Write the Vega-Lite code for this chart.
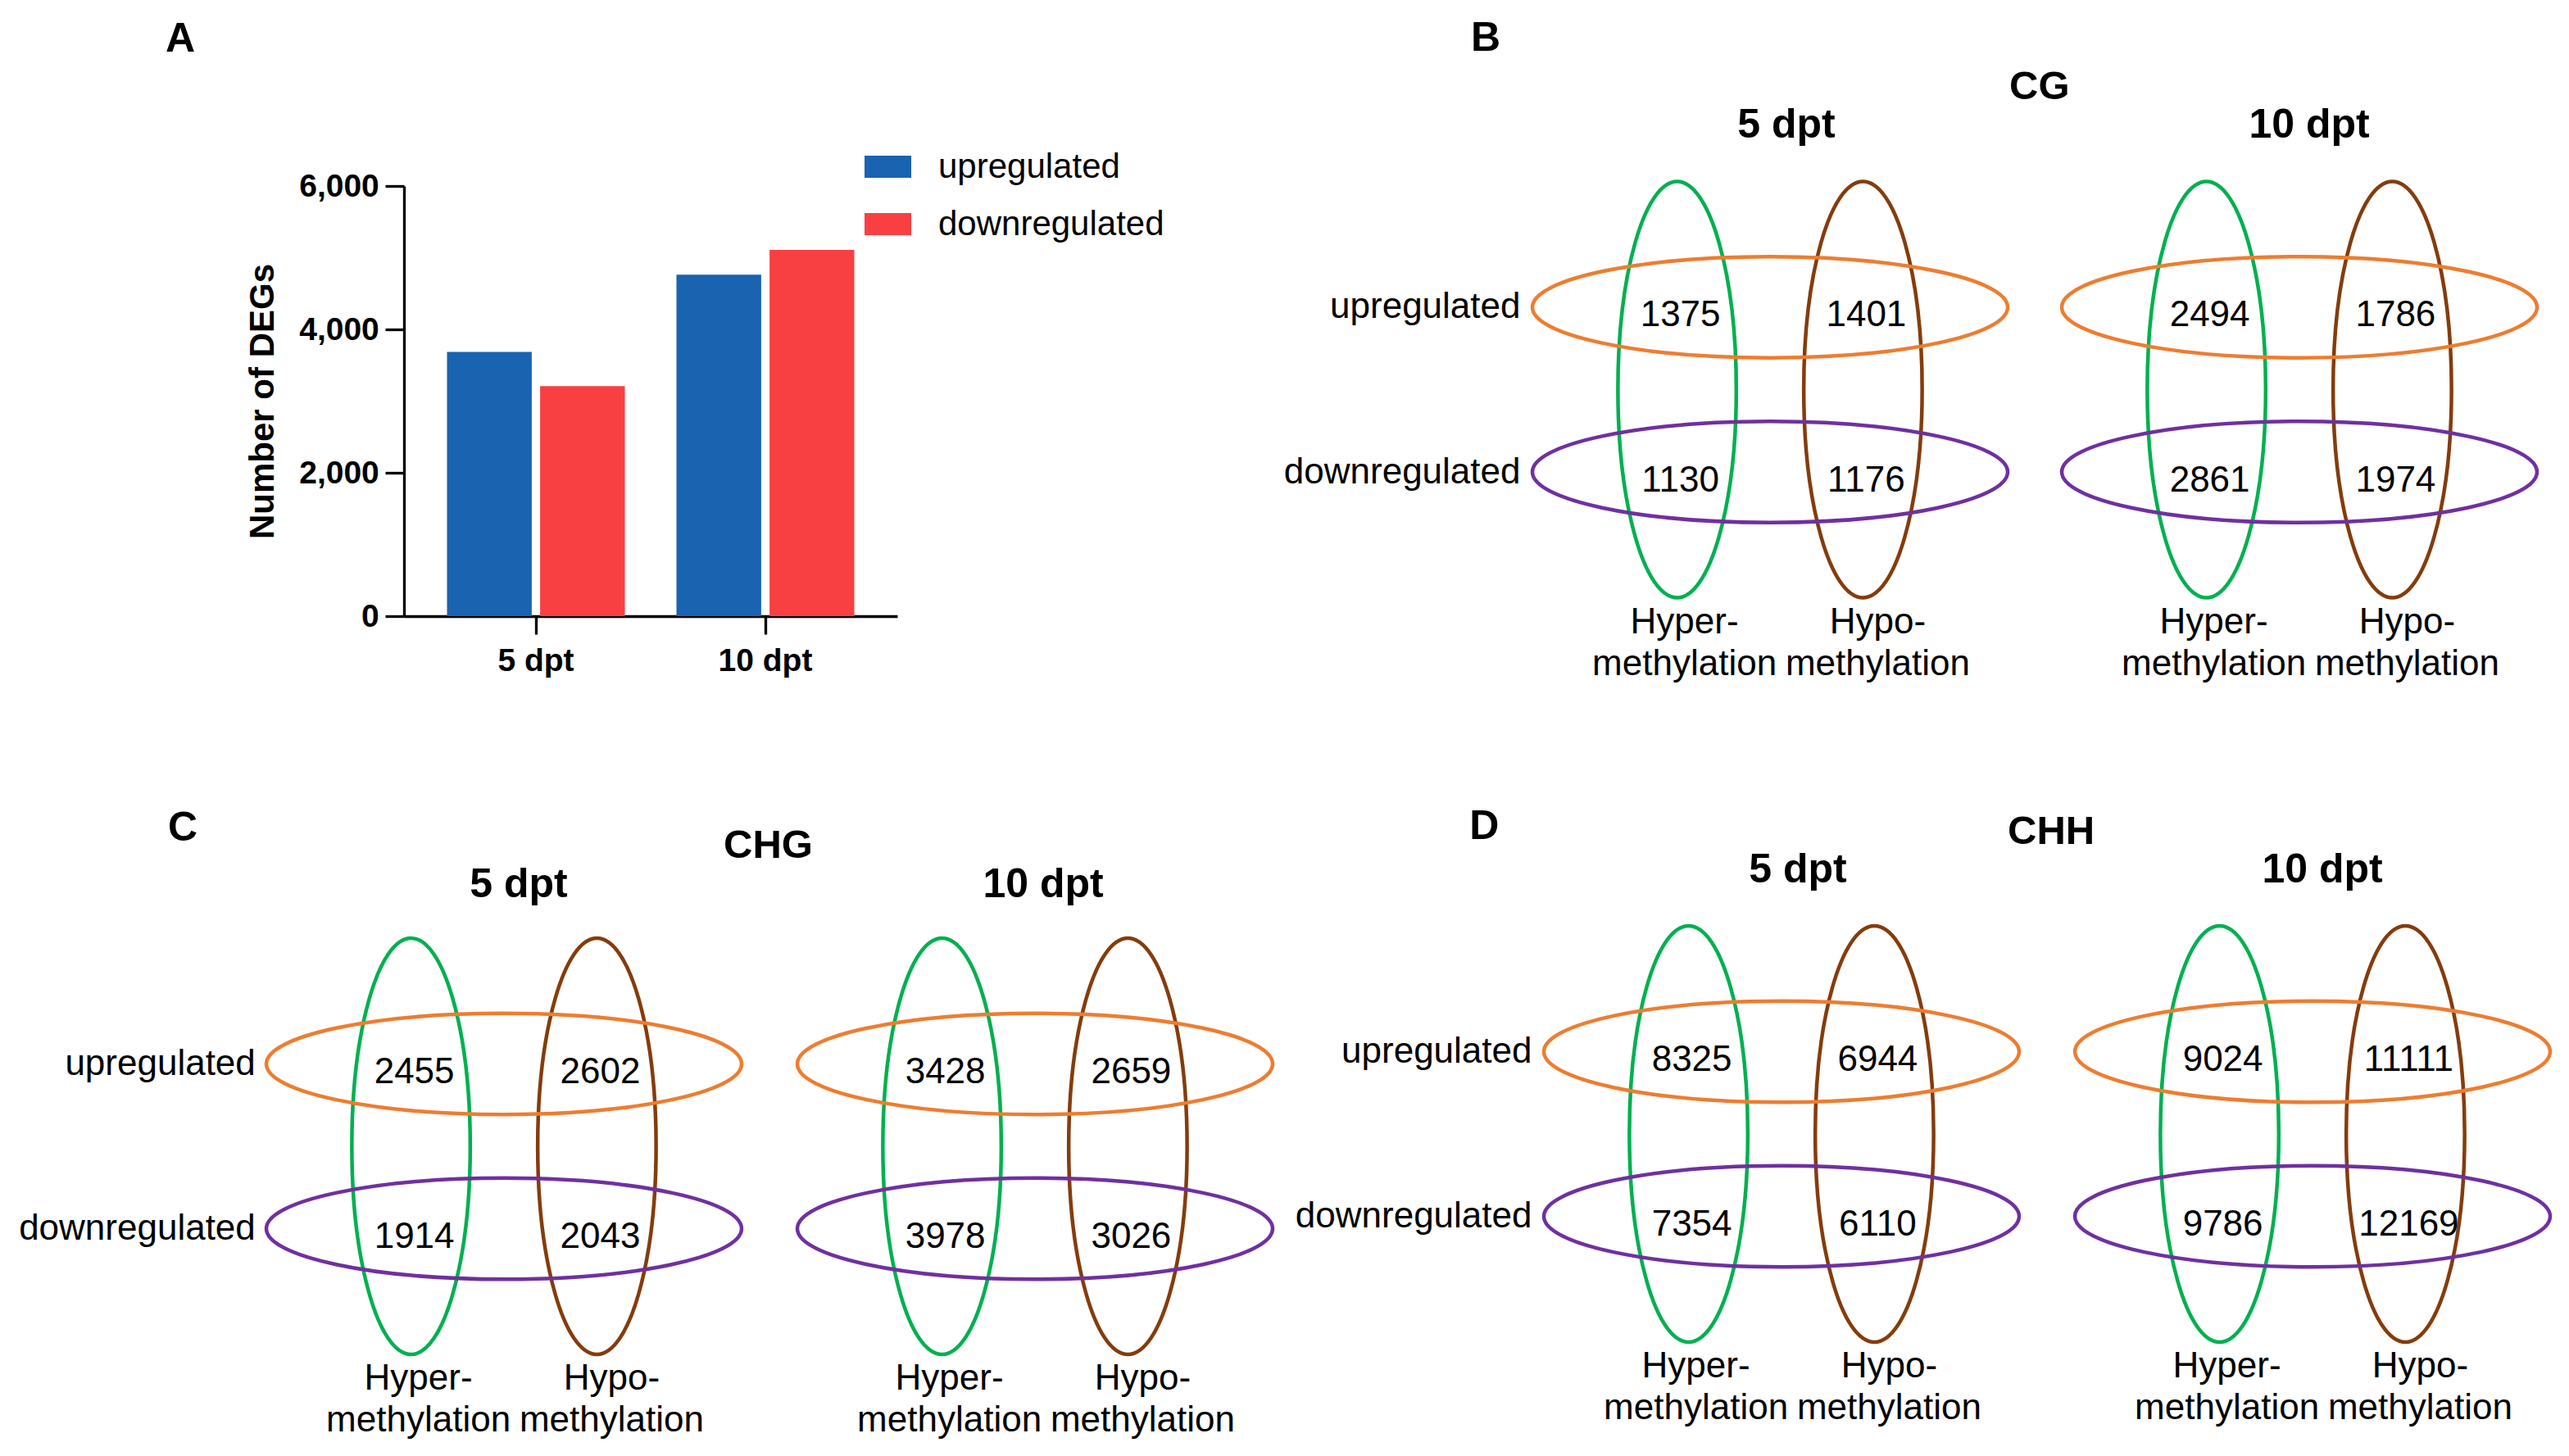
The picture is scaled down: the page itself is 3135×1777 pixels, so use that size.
{
  "$schema": "https://vega.github.io/schema/vega-lite/v6.json",
  "background": "white",
  "padding": {"left": 22, "top": 22, "right": 0, "bottom": 0},
  "config": {
    "font": "Liberation Sans",
    "view": {"stroke": null},
    "axis": {"grid": false, "labelColor": "black", "titleColor": "black", "domainColor": "black", "tickColor": "black"},
    "legend": {"labelLimit": 0},
    "title": {"color": "black"}
  },
  "datasets": {
    "degs": [
      {"stage": "5 dpt", "regulation": "upregulated", "count": 3685},
      {"stage": "5 dpt", "regulation": "downregulated", "count": 3208},
      {"stage": "10 dpt", "regulation": "upregulated", "count": 4762},
      {"stage": "10 dpt", "regulation": "downregulated", "count": 5110}
    ],
    "sets": [
      {"set": "Hyper-methylation", "kind": "methylation"},
      {"set": "Hypo-methylation", "kind": "methylation"},
      {"set": "upregulated", "kind": "regulation"},
      {"set": "downregulated", "kind": "regulation"}
    ],
    "cells": [
      {"context": "CG", "stage": "5 dpt", "methylation": "Hyper-methylation", "regulation": "upregulated", "count": 1375},
      {"context": "CG", "stage": "5 dpt", "methylation": "Hypo-methylation", "regulation": "upregulated", "count": 1401},
      {"context": "CG", "stage": "5 dpt", "methylation": "Hyper-methylation", "regulation": "downregulated", "count": 1130},
      {"context": "CG", "stage": "5 dpt", "methylation": "Hypo-methylation", "regulation": "downregulated", "count": 1176},
      {"context": "CG", "stage": "10 dpt", "methylation": "Hyper-methylation", "regulation": "upregulated", "count": 2494},
      {"context": "CG", "stage": "10 dpt", "methylation": "Hypo-methylation", "regulation": "upregulated", "count": 1786},
      {"context": "CG", "stage": "10 dpt", "methylation": "Hyper-methylation", "regulation": "downregulated", "count": 2861},
      {"context": "CG", "stage": "10 dpt", "methylation": "Hypo-methylation", "regulation": "downregulated", "count": 1974},
      {"context": "CHG", "stage": "5 dpt", "methylation": "Hyper-methylation", "regulation": "upregulated", "count": 2455},
      {"context": "CHG", "stage": "5 dpt", "methylation": "Hypo-methylation", "regulation": "upregulated", "count": 2602},
      {"context": "CHG", "stage": "5 dpt", "methylation": "Hyper-methylation", "regulation": "downregulated", "count": 1914},
      {"context": "CHG", "stage": "5 dpt", "methylation": "Hypo-methylation", "regulation": "downregulated", "count": 2043},
      {"context": "CHG", "stage": "10 dpt", "methylation": "Hyper-methylation", "regulation": "upregulated", "count": 3428},
      {"context": "CHG", "stage": "10 dpt", "methylation": "Hypo-methylation", "regulation": "upregulated", "count": 2659},
      {"context": "CHG", "stage": "10 dpt", "methylation": "Hyper-methylation", "regulation": "downregulated", "count": 3978},
      {"context": "CHG", "stage": "10 dpt", "methylation": "Hypo-methylation", "regulation": "downregulated", "count": 3026},
      {"context": "CHH", "stage": "5 dpt", "methylation": "Hyper-methylation", "regulation": "upregulated", "count": 8325},
      {"context": "CHH", "stage": "5 dpt", "methylation": "Hypo-methylation", "regulation": "upregulated", "count": 6944},
      {"context": "CHH", "stage": "5 dpt", "methylation": "Hyper-methylation", "regulation": "downregulated", "count": 7354},
      {"context": "CHH", "stage": "5 dpt", "methylation": "Hypo-methylation", "regulation": "downregulated", "count": 6110},
      {"context": "CHH", "stage": "10 dpt", "methylation": "Hyper-methylation", "regulation": "upregulated", "count": 9024},
      {"context": "CHH", "stage": "10 dpt", "methylation": "Hypo-methylation", "regulation": "upregulated", "count": 11111},
      {"context": "CHH", "stage": "10 dpt", "methylation": "Hyper-methylation", "regulation": "downregulated", "count": 9786},
      {"context": "CHH", "stage": "10 dpt", "methylation": "Hypo-methylation", "regulation": "downregulated", "count": 12169}
    ]
  },
  "spacing": 151,
  "vconcat": [
    {
      "spacing": 471,
      "hconcat": [
        {
          "title": {"text": "A", "anchor": "start", "frame": "group", "dx": -291, "offset": 135, "fontSize": 50, "fontWeight": "bold"},
          "width": 602,
          "height": 525,
          "data": {"name": "degs"},
          "mark": {"type": "bar"},
          "encoding": {
            "x": {"field": "stage", "type": "nominal", "sort": ["5 dpt", "10 dpt"],
              "scale": {"paddingInner": 0.225, "paddingOuter": 0.1875},
              "axis": {"title": null, "labelAngle": 0, "labelFontSize": 39, "labelFontWeight": "bold", "labelPadding": 13, "tickSize": 22, "tickWidth": 3.3, "domainWidth": 3.3}},
            "xOffset": {"field": "regulation", "type": "nominal", "sort": ["upregulated", "downregulated"], "scale": {"paddingInner": 0.09, "paddingOuter": 0}},
            "y": {"field": "count", "type": "quantitative", "scale": {"domain": [0, 6000], "nice": false},
              "axis": {"title": "Number of DEGs", "values": [0, 2000, 4000, 6000], "format": ",.0f", "labelFontSize": 39, "labelFontWeight": "bold", "labelPadding": 7.7, "tickSize": 23, "tickWidth": 3.3, "domainWidth": 3.3, "titleFontSize": 42, "titleFontWeight": "bold", "titlePadding": 22}},
            "color": {"field": "regulation", "type": "nominal",
              "scale": {"domain": ["upregulated", "downregulated"], "range": ["#1963B0", "#F84042"]},
              "legend": {"title": null, "orient": "none", "legendX": 562, "legendY": -52, "padding": 0, "symbolType": "M-1,-0.4737L1,-0.4737L1,0.4737L-1,0.4737Z", "symbolSize": 3249, "symbolStrokeWidth": 0, "symbolOpacity": 1, "labelFontSize": 42, "labelOffset": 33, "rowPadding": 20, "labelColor": "black"}}
          }
        },
        {
          "title": {"text": "B", "anchor": "start", "frame": "group", "dx": -75, "offset": 10.3, "fontSize": 50, "fontWeight": "bold"},
          "vconcat": [
            {
              "title": {"text": "CG", "anchor": "start", "frame": "group", "dx": 582, "offset": -3.3, "fontSize": 49, "fontWeight": "bold"},
              "spacing": 48,
              "hconcat": [
                {
                  "title": {"text": "5 dpt", "fontSize": 50, "fontWeight": "bold", "dx": 20, "offset": 34.5},
                  "width": 580, "height": 497,
                  "layer": [
                    {"data": {"name": "sets"}, "transform": [{"filter": "datum.kind == 'methylation'"}],
                      "mark": {"type": "point", "shape": "M0,-1C0.1571,-1 0.2844,-0.5523 0.2844,0C0.2844,0.5523 0.1571,1 0,1C-0.1571,1 -0.2844,0.5523 -0.2844,0C-0.2844,-0.5523 -0.1571,-1 0,-1Z", "size": 258064, "filled": false, "strokeWidth": 4.5, "opacity": 1},
                      "encoding": {
                        "x": {"field": "set", "type": "nominal", "scale": {"type": "point", "domain": ["Hyper-methylation", "Hypo-methylation"], "padding": 0.7787},
                          "axis": {"title": null, "orient": "bottom", "domain": false, "ticks": false, "tickSize": 0, "labelFontSize": 44, "labelLineHeight": 51, "labelPadding": 13.2, "labelOffset": {"condition": {"test": "datum.value == 'Hyper-methylation'", "value": 8.5}, "value": 17.5}, "labelAngle": 0, "labelLimit": 0, "labelExpr": "[split(datum.label, '-')[0] + '-', split(datum.label, '-')[1]]"}},
                        "stroke": {"field": "set", "type": "nominal", "scale": {"domain": ["Hyper-methylation", "Hypo-methylation", "upregulated", "downregulated"], "range": ["#00B050", "#843C0C", "#ED7D31", "#7030A0"]}, "legend": null}
                      }},
                    {"data": {"name": "sets"}, "transform": [{"filter": "datum.kind == 'regulation'"}],
                      "mark": {"type": "point", "shape": "M-1,0C-1,-0.1176 -0.5523,-0.2129 0,-0.2129C0.5523,-0.2129 1,-0.1176 1,0C1,0.1176 0.5523,0.2129 0,0.2129C-0.5523,0.2129 -1,0.1176 -1,0Z", "size": 336400, "filled": false, "strokeWidth": 4.5, "opacity": 1},
                      "encoding": {
                        "y": {"field": "set", "type": "nominal", "scale": {"type": "point", "domain": ["upregulated", "downregulated"], "padding": 0.736},
                          "axis": {"title": null, "domain": false, "ticks": false, "tickSize": 0, "labelFontSize": 44, "labelPadding": 15, "labelLimit": 0}},
                        "stroke": {"field": "set", "type": "nominal", "scale": {"domain": ["Hyper-methylation", "Hypo-methylation", "upregulated", "downregulated"], "range": ["#00B050", "#843C0C", "#ED7D31", "#7030A0"]}, "legend": null}
                      }},
                    {"data": {"name": "cells"}, "transform": [{"filter": "datum.context == 'CG' && datum.stage == '5 dpt'"}],
                      "mark": {"type": "text", "fontSize": 44, "dx": 4, "dy": 10.5, "color": "black"},
                      "encoding": {
                        "x": {"field": "methylation", "type": "nominal", "scale": {"type": "point", "domain": ["Hyper-methylation", "Hypo-methylation"], "padding": 0.7787},
                          "axis": {"title": null, "orient": "bottom", "domain": false, "ticks": false, "tickSize": 0, "labelFontSize": 44, "labelLineHeight": 51, "labelPadding": 13.2, "labelOffset": {"condition": {"test": "datum.value == 'Hyper-methylation'", "value": 8.5}, "value": 17.5}, "labelAngle": 0, "labelLimit": 0, "labelExpr": "[split(datum.label, '-')[0] + '-', split(datum.label, '-')[1]]"}},
                        "y": {"field": "regulation", "type": "nominal", "scale": {"type": "point", "domain": ["upregulated", "downregulated"], "padding": 0.736},
                          "axis": {"title": null, "domain": false, "ticks": false, "tickSize": 0, "labelFontSize": 44, "labelPadding": 15, "labelLimit": 0}},
                        "text": {"field": "count", "type": "nominal"}
                      }}
                  ]
                },
                {
                  "title": {"text": "10 dpt", "fontSize": 50, "fontWeight": "bold", "dx": 12, "offset": 34.5},
                  "width": 580, "height": 497,
                  "layer": [
                    {"data": {"name": "sets"}, "transform": [{"filter": "datum.kind == 'methylation'"}],
                      "mark": {"type": "point", "shape": "M0,-1C0.1571,-1 0.2844,-0.5523 0.2844,0C0.2844,0.5523 0.1571,1 0,1C-0.1571,1 -0.2844,0.5523 -0.2844,0C-0.2844,-0.5523 -0.1571,-1 0,-1Z", "size": 258064, "filled": false, "strokeWidth": 4.5, "opacity": 1},
                      "encoding": {
                        "x": {"field": "set", "type": "nominal", "scale": {"type": "point", "domain": ["Hyper-methylation", "Hypo-methylation"], "padding": 0.7787},
                          "axis": {"title": null, "orient": "bottom", "domain": false, "ticks": false, "tickSize": 0, "labelFontSize": 44, "labelLineHeight": 51, "labelPadding": 13.2, "labelOffset": {"condition": {"test": "datum.value == 'Hyper-methylation'", "value": 8.5}, "value": 17.5}, "labelAngle": 0, "labelLimit": 0, "labelExpr": "[split(datum.label, '-')[0] + '-', split(datum.label, '-')[1]]"}},
                        "stroke": {"field": "set", "type": "nominal", "scale": {"domain": ["Hyper-methylation", "Hypo-methylation", "upregulated", "downregulated"], "range": ["#00B050", "#843C0C", "#ED7D31", "#7030A0"]}, "legend": null}
                      }},
                    {"data": {"name": "sets"}, "transform": [{"filter": "datum.kind == 'regulation'"}],
                      "mark": {"type": "point", "shape": "M-1,0C-1,-0.1176 -0.5523,-0.2129 0,-0.2129C0.5523,-0.2129 1,-0.1176 1,0C1,0.1176 0.5523,0.2129 0,0.2129C-0.5523,0.2129 -1,0.1176 -1,0Z", "size": 336400, "filled": false, "strokeWidth": 4.5, "opacity": 1},
                      "encoding": {
                        "y": {"field": "set", "type": "nominal", "scale": {"type": "point", "domain": ["upregulated", "downregulated"], "padding": 0.736}, "axis": null},
                        "stroke": {"field": "set", "type": "nominal", "scale": {"domain": ["Hyper-methylation", "Hypo-methylation", "upregulated", "downregulated"], "range": ["#00B050", "#843C0C", "#ED7D31", "#7030A0"]}, "legend": null}
                      }},
                    {"data": {"name": "cells"}, "transform": [{"filter": "datum.context == 'CG' && datum.stage == '10 dpt'"}],
                      "mark": {"type": "text", "fontSize": 44, "dx": 4, "dy": 10.5, "color": "black"},
                      "encoding": {
                        "x": {"field": "methylation", "type": "nominal", "scale": {"type": "point", "domain": ["Hyper-methylation", "Hypo-methylation"], "padding": 0.7787},
                          "axis": {"title": null, "orient": "bottom", "domain": false, "ticks": false, "tickSize": 0, "labelFontSize": 44, "labelLineHeight": 51, "labelPadding": 13.2, "labelOffset": {"condition": {"test": "datum.value == 'Hyper-methylation'", "value": 8.5}, "value": 17.5}, "labelAngle": 0, "labelLimit": 0, "labelExpr": "[split(datum.label, '-')[0] + '-', split(datum.label, '-')[1]]"}},
                        "y": {"field": "regulation", "type": "nominal", "scale": {"type": "point", "domain": ["upregulated", "downregulated"], "padding": 0.736}, "axis": null},
                        "text": {"field": "count", "type": "nominal"}
                      }}
                  ]
                }
              ]
            }
          ]
        }
      ]
    },
    {
      "spacing": 18,
      "hconcat": [
        {
          "title": {"text": "C", "anchor": "start", "frame": "group", "dx": -288, "offset": -28.5, "fontSize": 50, "fontWeight": "bold"},
          "vconcat": [
            {
              "title": {"text": "CHG", "anchor": "start", "frame": "group", "dx": 390, "offset": -2.3, "fontSize": 49, "fontWeight": "bold"},
              "spacing": 50,
              "hconcat": [
                {
                  "title": {"text": "5 dpt", "fontSize": 50, "fontWeight": "bold", "dx": 18, "offset": 29.5},
                  "width": 244, "height": 530,
                  "layer": [
                    {"data": {"name": "sets"}, "transform": [{"filter": "datum.kind == 'methylation'"}],
                      "mark": {"type": "point", "shape": "M0,-1C0.1571,-1 0.2844,-0.5523 0.2844,0C0.2844,0.5523 0.1571,1 0,1C-0.1571,1 -0.2844,0.5523 -0.2844,0C-0.2844,-0.5523 -0.1571,-1 0,-1Z", "size": 258064, "filled": false, "strokeWidth": 4.5, "opacity": 1},
                      "encoding": {
                        "x": {"field": "set", "type": "nominal", "scale": {"type": "point", "domain": ["Hyper-methylation", "Hypo-methylation"], "padding": 0.0379},
                          "axis": {"title": null, "orient": "bottom", "domain": false, "ticks": false, "tickSize": 0, "labelFontSize": 44, "labelLineHeight": 51, "labelPadding": -3.6, "labelOffset": {"condition": {"test": "datum.value == 'Hyper-methylation'", "value": 8.5}, "value": 17.5}, "labelAngle": 0, "labelLimit": 0, "labelExpr": "[split(datum.label, '-')[0] + '-', split(datum.label, '-')[1]]"}},
                        "stroke": {"field": "set", "type": "nominal", "scale": {"domain": ["Hyper-methylation", "Hypo-methylation", "upregulated", "downregulated"], "range": ["#00B050", "#843C0C", "#ED7D31", "#7030A0"]}, "legend": null}
                      }},
                    {"data": {"name": "sets"}, "transform": [{"filter": "datum.kind == 'regulation'"}],
                      "mark": {"type": "point", "shape": "M-1,0C-1,-0.1176 -0.5523,-0.2129 0,-0.2129C0.5523,-0.2129 1,-0.1176 1,0C1,0.1176 0.5523,0.2129 0,0.2129C-0.5523,0.2129 -1,0.1176 -1,0Z", "size": 336400, "filled": false, "strokeWidth": 4.5, "opacity": 1},
                      "encoding": {
                        "y": {"field": "set", "type": "nominal", "scale": {"type": "point", "domain": ["upregulated", "downregulated"], "padding": 0.818},
                          "axis": {"title": null, "domain": false, "ticks": false, "tickSize": 0, "labelFontSize": 44, "labelPadding": 181.7, "labelLimit": 0}},
                        "stroke": {"field": "set", "type": "nominal", "scale": {"domain": ["Hyper-methylation", "Hypo-methylation", "upregulated", "downregulated"], "range": ["#00B050", "#843C0C", "#ED7D31", "#7030A0"]}, "legend": null}
                      }},
                    {"data": {"name": "cells"}, "transform": [{"filter": "datum.context == 'CHG' && datum.stage == '5 dpt'"}],
                      "mark": {"type": "text", "fontSize": 44, "dx": 4, "dy": 10.5, "color": "black"},
                      "encoding": {
                        "x": {"field": "methylation", "type": "nominal", "scale": {"type": "point", "domain": ["Hyper-methylation", "Hypo-methylation"], "padding": 0.0379},
                          "axis": {"title": null, "orient": "bottom", "domain": false, "ticks": false, "tickSize": 0, "labelFontSize": 44, "labelLineHeight": 51, "labelPadding": -3.6, "labelOffset": {"condition": {"test": "datum.value == 'Hyper-methylation'", "value": 8.5}, "value": 17.5}, "labelAngle": 0, "labelLimit": 0, "labelExpr": "[split(datum.label, '-')[0] + '-', split(datum.label, '-')[1]]"}},
                        "y": {"field": "regulation", "type": "nominal", "scale": {"type": "point", "domain": ["upregulated", "downregulated"], "padding": 0.818},
                          "axis": {"title": null, "domain": false, "ticks": false, "tickSize": 0, "labelFontSize": 44, "labelPadding": 181.7, "labelLimit": 0}},
                        "text": {"field": "count", "type": "nominal"}
                      }}
                  ]
                },
                {
                  "title": {"text": "10 dpt", "fontSize": 50, "fontWeight": "bold", "dx": 10, "offset": 29.5},
                  "width": 580, "height": 530,
                  "layer": [
                    {"data": {"name": "sets"}, "transform": [{"filter": "datum.kind == 'methylation'"}],
                      "mark": {"type": "point", "shape": "M0,-1C0.1571,-1 0.2844,-0.5523 0.2844,0C0.2844,0.5523 0.1571,1 0,1C-0.1571,1 -0.2844,0.5523 -0.2844,0C-0.2844,-0.5523 -0.1571,-1 0,-1Z", "size": 258064, "filled": false, "strokeWidth": 4.5, "opacity": 1},
                      "encoding": {
                        "x": {"field": "set", "type": "nominal", "scale": {"type": "point", "domain": ["Hyper-methylation", "Hypo-methylation"], "padding": 0.7787},
                          "axis": {"title": null, "orient": "bottom", "domain": false, "ticks": false, "tickSize": 0, "labelFontSize": 44, "labelLineHeight": 51, "labelPadding": -3.6, "labelOffset": {"condition": {"test": "datum.value == 'Hyper-methylation'", "value": 8.5}, "value": 17.5}, "labelAngle": 0, "labelLimit": 0, "labelExpr": "[split(datum.label, '-')[0] + '-', split(datum.label, '-')[1]]"}},
                        "stroke": {"field": "set", "type": "nominal", "scale": {"domain": ["Hyper-methylation", "Hypo-methylation", "upregulated", "downregulated"], "range": ["#00B050", "#843C0C", "#ED7D31", "#7030A0"]}, "legend": null}
                      }},
                    {"data": {"name": "sets"}, "transform": [{"filter": "datum.kind == 'regulation'"}],
                      "mark": {"type": "point", "shape": "M-1,0C-1,-0.1176 -0.5523,-0.2129 0,-0.2129C0.5523,-0.2129 1,-0.1176 1,0C1,0.1176 0.5523,0.2129 0,0.2129C-0.5523,0.2129 -1,0.1176 -1,0Z", "size": 336400, "filled": false, "strokeWidth": 4.5, "opacity": 1},
                      "encoding": {
                        "y": {"field": "set", "type": "nominal", "scale": {"type": "point", "domain": ["upregulated", "downregulated"], "padding": 0.818}, "axis": null},
                        "stroke": {"field": "set", "type": "nominal", "scale": {"domain": ["Hyper-methylation", "Hypo-methylation", "upregulated", "downregulated"], "range": ["#00B050", "#843C0C", "#ED7D31", "#7030A0"]}, "legend": null}
                      }},
                    {"data": {"name": "cells"}, "transform": [{"filter": "datum.context == 'CHG' && datum.stage == '10 dpt'"}],
                      "mark": {"type": "text", "fontSize": 44, "dx": 4, "dy": 10.5, "color": "black"},
                      "encoding": {
                        "x": {"field": "methylation", "type": "nominal", "scale": {"type": "point", "domain": ["Hyper-methylation", "Hypo-methylation"], "padding": 0.7787},
                          "axis": {"title": null, "orient": "bottom", "domain": false, "ticks": false, "tickSize": 0, "labelFontSize": 44, "labelLineHeight": 51, "labelPadding": -3.6, "labelOffset": {"condition": {"test": "datum.value == 'Hyper-methylation'", "value": 8.5}, "value": 17.5}, "labelAngle": 0, "labelLimit": 0, "labelExpr": "[split(datum.label, '-')[0] + '-', split(datum.label, '-')[1]]"}},
                        "y": {"field": "regulation", "type": "nominal", "scale": {"type": "point", "domain": ["upregulated", "downregulated"], "padding": 0.818}, "axis": null},
                        "text": {"field": "count", "type": "nominal"}
                      }}
                  ]
                }
              ]
            }
          ]
        },
        {
          "title": {"text": "D", "anchor": "start", "frame": "group", "dx": -90.7, "offset": -43, "fontSize": 50, "fontWeight": "bold"},
          "vconcat": [
            {
              "title": {"text": "CHH", "anchor": "start", "frame": "group", "dx": 566, "offset": -3.3, "fontSize": 49, "fontWeight": "bold"},
              "spacing": 50,
              "hconcat": [
                {
                  "title": {"text": "5 dpt", "fontSize": 50, "fontWeight": "bold", "dx": 20, "offset": 34.2},
                  "width": 580, "height": 500,
                  "layer": [
                    {"data": {"name": "sets"}, "transform": [{"filter": "datum.kind == 'methylation'"}],
                      "mark": {"type": "point", "shape": "M0,-1C0.1571,-1 0.2844,-0.5523 0.2844,0C0.2844,0.5523 0.1571,1 0,1C-0.1571,1 -0.2844,0.5523 -0.2844,0C-0.2844,-0.5523 -0.1571,-1 0,-1Z", "size": 258064, "filled": false, "strokeWidth": 4.5, "opacity": 1},
                      "encoding": {
                        "x": {"field": "set", "type": "nominal", "scale": {"type": "point", "domain": ["Hyper-methylation", "Hypo-methylation"], "padding": 0.7787},
                          "axis": {"title": null, "orient": "bottom", "domain": false, "ticks": false, "tickSize": 0, "labelFontSize": 44, "labelLineHeight": 51, "labelPadding": 11.4, "labelOffset": {"condition": {"test": "datum.value == 'Hyper-methylation'", "value": 8.5}, "value": 17.5}, "labelAngle": 0, "labelLimit": 0, "labelExpr": "[split(datum.label, '-')[0] + '-', split(datum.label, '-')[1]]"}},
                        "stroke": {"field": "set", "type": "nominal", "scale": {"domain": ["Hyper-methylation", "Hypo-methylation", "upregulated", "downregulated"], "range": ["#00B050", "#843C0C", "#ED7D31", "#7030A0"]}, "legend": null}
                      }},
                    {"data": {"name": "sets"}, "transform": [{"filter": "datum.kind == 'regulation'"}],
                      "mark": {"type": "point", "shape": "M-1,0C-1,-0.1176 -0.5523,-0.2129 0,-0.2129C0.5523,-0.2129 1,-0.1176 1,0C1,0.1176 0.5523,0.2129 0,0.2129C-0.5523,0.2129 -1,0.1176 -1,0Z", "size": 336400, "filled": false, "strokeWidth": 4.5, "opacity": 1},
                      "encoding": {
                        "y": {"field": "set", "type": "nominal", "scale": {"type": "point", "domain": ["upregulated", "downregulated"], "padding": 0.744},
                          "axis": {"title": null, "domain": false, "ticks": false, "tickSize": 0, "labelFontSize": 44, "labelPadding": 15, "labelLimit": 0}},
                        "stroke": {"field": "set", "type": "nominal", "scale": {"domain": ["Hyper-methylation", "Hypo-methylation", "upregulated", "downregulated"], "range": ["#00B050", "#843C0C", "#ED7D31", "#7030A0"]}, "legend": null}
                      }},
                    {"data": {"name": "cells"}, "transform": [{"filter": "datum.context == 'CHH' && datum.stage == '5 dpt'"}],
                      "mark": {"type": "text", "fontSize": 44, "dx": 4, "dy": 10.5, "color": "black"},
                      "encoding": {
                        "x": {"field": "methylation", "type": "nominal", "scale": {"type": "point", "domain": ["Hyper-methylation", "Hypo-methylation"], "padding": 0.7787},
                          "axis": {"title": null, "orient": "bottom", "domain": false, "ticks": false, "tickSize": 0, "labelFontSize": 44, "labelLineHeight": 51, "labelPadding": 11.4, "labelOffset": {"condition": {"test": "datum.value == 'Hyper-methylation'", "value": 8.5}, "value": 17.5}, "labelAngle": 0, "labelLimit": 0, "labelExpr": "[split(datum.label, '-')[0] + '-', split(datum.label, '-')[1]]"}},
                        "y": {"field": "regulation", "type": "nominal", "scale": {"type": "point", "domain": ["upregulated", "downregulated"], "padding": 0.744},
                          "axis": {"title": null, "domain": false, "ticks": false, "tickSize": 0, "labelFontSize": 44, "labelPadding": 15, "labelLimit": 0}},
                        "text": {"field": "count", "type": "nominal"}
                      }}
                  ]
                },
                {
                  "title": {"text": "10 dpt", "fontSize": 50, "fontWeight": "bold", "dx": 12, "offset": 34.2},
                  "width": 580, "height": 500,
                  "layer": [
                    {"data": {"name": "sets"}, "transform": [{"filter": "datum.kind == 'methylation'"}],
                      "mark": {"type": "point", "shape": "M0,-1C0.1571,-1 0.2844,-0.5523 0.2844,0C0.2844,0.5523 0.1571,1 0,1C-0.1571,1 -0.2844,0.5523 -0.2844,0C-0.2844,-0.5523 -0.1571,-1 0,-1Z", "size": 258064, "filled": false, "strokeWidth": 4.5, "opacity": 1},
                      "encoding": {
                        "x": {"field": "set", "type": "nominal", "scale": {"type": "point", "domain": ["Hyper-methylation", "Hypo-methylation"], "padding": 0.7787},
                          "axis": {"title": null, "orient": "bottom", "domain": false, "ticks": false, "tickSize": 0, "labelFontSize": 44, "labelLineHeight": 51, "labelPadding": 11.4, "labelOffset": {"condition": {"test": "datum.value == 'Hyper-methylation'", "value": 8.5}, "value": 17.5}, "labelAngle": 0, "labelLimit": 0, "labelExpr": "[split(datum.label, '-')[0] + '-', split(datum.label, '-')[1]]"}},
                        "stroke": {"field": "set", "type": "nominal", "scale": {"domain": ["Hyper-methylation", "Hypo-methylation", "upregulated", "downregulated"], "range": ["#00B050", "#843C0C", "#ED7D31", "#7030A0"]}, "legend": null}
                      }},
                    {"data": {"name": "sets"}, "transform": [{"filter": "datum.kind == 'regulation'"}],
                      "mark": {"type": "point", "shape": "M-1,0C-1,-0.1176 -0.5523,-0.2129 0,-0.2129C0.5523,-0.2129 1,-0.1176 1,0C1,0.1176 0.5523,0.2129 0,0.2129C-0.5523,0.2129 -1,0.1176 -1,0Z", "size": 336400, "filled": false, "strokeWidth": 4.5, "opacity": 1},
                      "encoding": {
                        "y": {"field": "set", "type": "nominal", "scale": {"type": "point", "domain": ["upregulated", "downregulated"], "padding": 0.744}, "axis": null},
                        "stroke": {"field": "set", "type": "nominal", "scale": {"domain": ["Hyper-methylation", "Hypo-methylation", "upregulated", "downregulated"], "range": ["#00B050", "#843C0C", "#ED7D31", "#7030A0"]}, "legend": null}
                      }},
                    {"data": {"name": "cells"}, "transform": [{"filter": "datum.context == 'CHH' && datum.stage == '10 dpt'"}],
                      "mark": {"type": "text", "fontSize": 44, "dx": 4, "dy": 10.5, "color": "black"},
                      "encoding": {
                        "x": {"field": "methylation", "type": "nominal", "scale": {"type": "point", "domain": ["Hyper-methylation", "Hypo-methylation"], "padding": 0.7787},
                          "axis": {"title": null, "orient": "bottom", "domain": false, "ticks": false, "tickSize": 0, "labelFontSize": 44, "labelLineHeight": 51, "labelPadding": 11.4, "labelOffset": {"condition": {"test": "datum.value == 'Hyper-methylation'", "value": 8.5}, "value": 17.5}, "labelAngle": 0, "labelLimit": 0, "labelExpr": "[split(datum.label, '-')[0] + '-', split(datum.label, '-')[1]]"}},
                        "y": {"field": "regulation", "type": "nominal", "scale": {"type": "point", "domain": ["upregulated", "downregulated"], "padding": 0.744}, "axis": null},
                        "text": {"field": "count", "type": "nominal"}
                      }}
                  ]
                }
              ]
            }
          ]
        }
      ]
    }
  ]
}
